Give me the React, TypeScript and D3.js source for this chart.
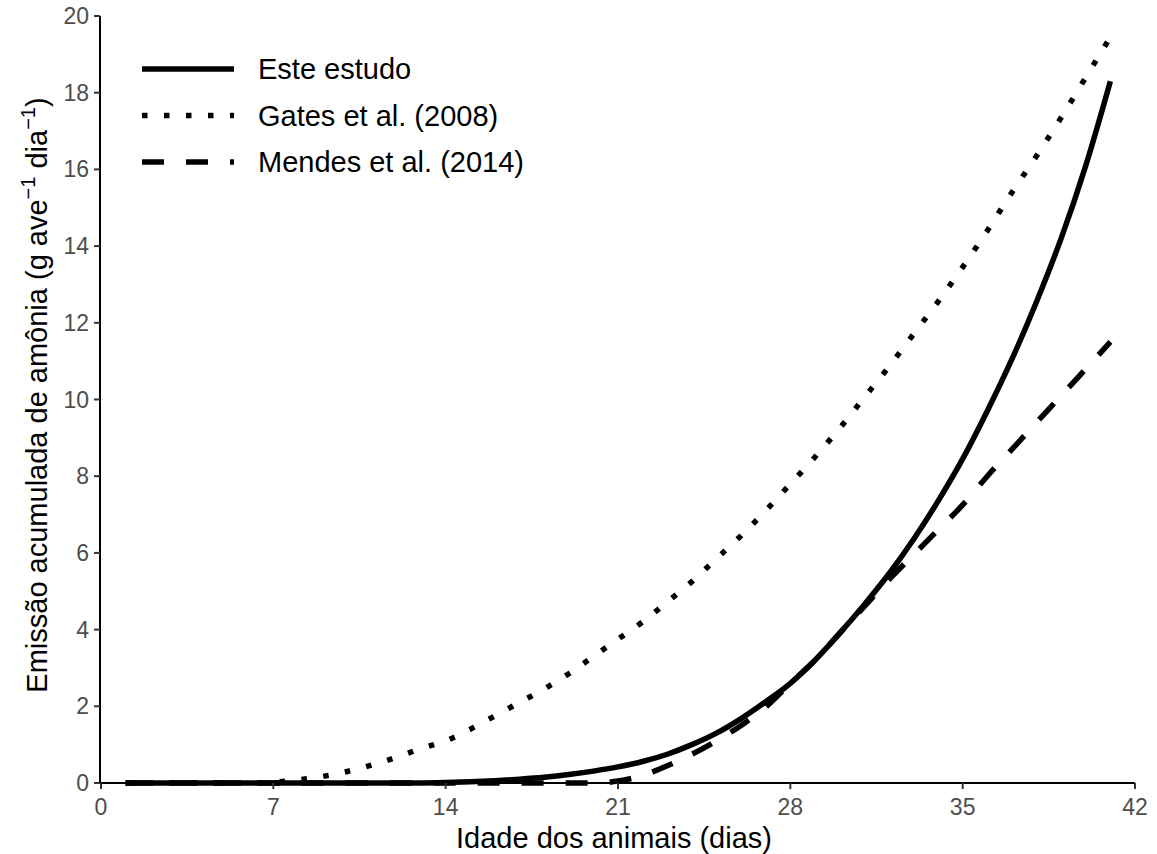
import { useMemo } from 'react';
import * as d3 from 'd3';

const WIDTH = 1157;
const HEIGHT = 854;
const MARGIN = { top: 16, right: 22, bottom: 71, left: 101 };

// dias de idade (1 a 41)
const DAYS = d3.range(1, 42);

// Este estudo
const ESTE = [
  0, 0, 0, 0, 0, 0, 0, 0, 0, 0, 0, 0, 0,
  0.01, 0.03, 0.06, 0.1, 0.15, 0.22, 0.31, 0.42, 0.56, 0.75, 1.0, 1.3,
  1.68, 2.12, 2.6, 3.2, 3.9, 4.65, 5.45, 6.35, 7.35, 8.45, 9.7, 11.05,
  12.55, 14.2, 16.1, 18.3,
];

// Gates et al. (2008)
const GATES = [
  0, 0, 0, 0, 0, 0, 0.02, 0.08, 0.17, 0.3, 0.47, 0.67, 0.9,
  1.1, 1.4, 1.75, 2.1, 2.45, 2.85, 3.3, 3.75, 4.2, 4.72, 5.25, 5.85,
  6.45, 7.1, 7.8, 8.5, 9.25, 10.05, 10.85, 11.7, 12.55, 13.45, 14.4, 15.4,
  16.35, 17.35, 18.4, 19.45,
];

// Mendes et al. (2014)
const MENDES = [
  0, 0, 0, 0, 0, 0, 0, 0, 0, 0, 0, 0, 0,
  0, 0, 0, 0, 0, 0, 0, 0.05, 0.2, 0.45, 0.75, 1.1,
  1.5, 1.98, 2.6, 3.2, 3.9, 4.6, 5.3, 5.95, 6.6, 7.25, 8.0, 8.7,
  9.4, 10.1, 10.8, 11.5,
];

const X_TICKS = [0, 7, 14, 21, 28, 35, 42];
const Y_TICKS = [0, 2, 4, 6, 8, 10, 12, 14, 16, 18, 20];

const SERIES = [
  { name: 'Este estudo', values: ESTE, dash: null },
  { name: 'Gates et al. (2008)', values: GATES, dash: '5.5,16.5' },
  { name: 'Mendes et al. (2014)', values: MENDES, dash: '22,22' },
];

const FONT = '"Liberation Sans", Arial, Helvetica, sans-serif';
const LINE_W = 5.5;

const App = () => {
  const boundsWidth = WIDTH - MARGIN.left - MARGIN.right;
  const boundsHeight = HEIGHT - MARGIN.top - MARGIN.bottom;

  const xScale = d3.scaleLinear().domain([0, 42]).range([0, boundsWidth]);
  const yScale = d3.scaleLinear().domain([0, 20]).range([boundsHeight, 0]);

  const lineGenerator = d3
    .line<[number, number]>()
    .x((d) => xScale(d[0]))
    .y((d) => yScale(d[1]))
    .curve(d3.curveMonotoneX);

  const paths = useMemo(
    () =>
      SERIES.map((s) => ({
        ...s,
        d: lineGenerator(DAYS.map((day, i) => [day, s.values[i]] as [number, number])) || '',
      })),
    []
  );

  return (
    <svg
      width={WIDTH}
      height={HEIGHT}
      style={{ position: 'absolute', left: 0, top: 0, background: '#fff' }}
      fontFamily={FONT}
    >
      <g transform={`translate(${MARGIN.left},${MARGIN.top})`}>
        {/* curvas */}
        {paths.map((p) => (
          <path
            key={p.name}
            d={p.d}
            fill="none"
            stroke="#000"
            strokeWidth={LINE_W}
            strokeDasharray={p.dash || undefined}
          />
        ))}

        {/* eixo x */}
        <line x1={-1} x2={boundsWidth} y1={boundsHeight} y2={boundsHeight} stroke="#000" strokeWidth={2} />
        {X_TICKS.map((t) => (
          <g key={t} transform={`translate(${xScale(t)},${boundsHeight})`}>
            <line y1={0} y2={6} stroke="#333" strokeWidth={2} />
            <text y={32} textAnchor="middle" fontSize={23} fill="#4d4d4d">
              {t}
            </text>
          </g>
        ))}

        {/* eixo y */}
        <line x1={-1} x2={-1} y1={0} y2={boundsHeight} stroke="#000" strokeWidth={2} />
        {Y_TICKS.map((t) => (
          <g key={t} transform={`translate(-1,${yScale(t)})`}>
            <line x1={-6} x2={0} stroke="#333" strokeWidth={2} />
            <text x={-11} dy="0.35em" textAnchor="end" fontSize={23} fill="#4d4d4d">
              {t}
            </text>
          </g>
        ))}

        {/* legenda */}
        {SERIES.map((s, i) => (
          <g key={s.name} transform={`translate(41,${53 + i * 46.5})`}>
            <line
              x1={0}
              x2={92}
              stroke="#000"
              strokeWidth={LINE_W}
              strokeDasharray={s.dash || undefined}
            />
            <text x={116} dy="0.35em" fontSize={29} fill="#000">
              {s.name}
            </text>
          </g>
        ))}
      </g>

      {/* títulos */}
      <text x={MARGIN.left + boundsWidth / 2 - 4} y={848} textAnchor="middle" fontSize={29} fill="#000">
        Idade dos animais (dias)
      </text>
      <text
        transform={`translate(47,395) rotate(-90)`}
        textAnchor="middle"
        fontSize={29}
        fill="#000"
      >
        Emissão acumulada de amônia (g ave
        <tspan fontSize={20} dy={-12}>−1</tspan>
        <tspan dy={12}> dia</tspan>
        <tspan fontSize={20} dy={-12}>−1</tspan>
        <tspan dy={12}>)</tspan>
      </text>
    </svg>
  );
};

export default App;
